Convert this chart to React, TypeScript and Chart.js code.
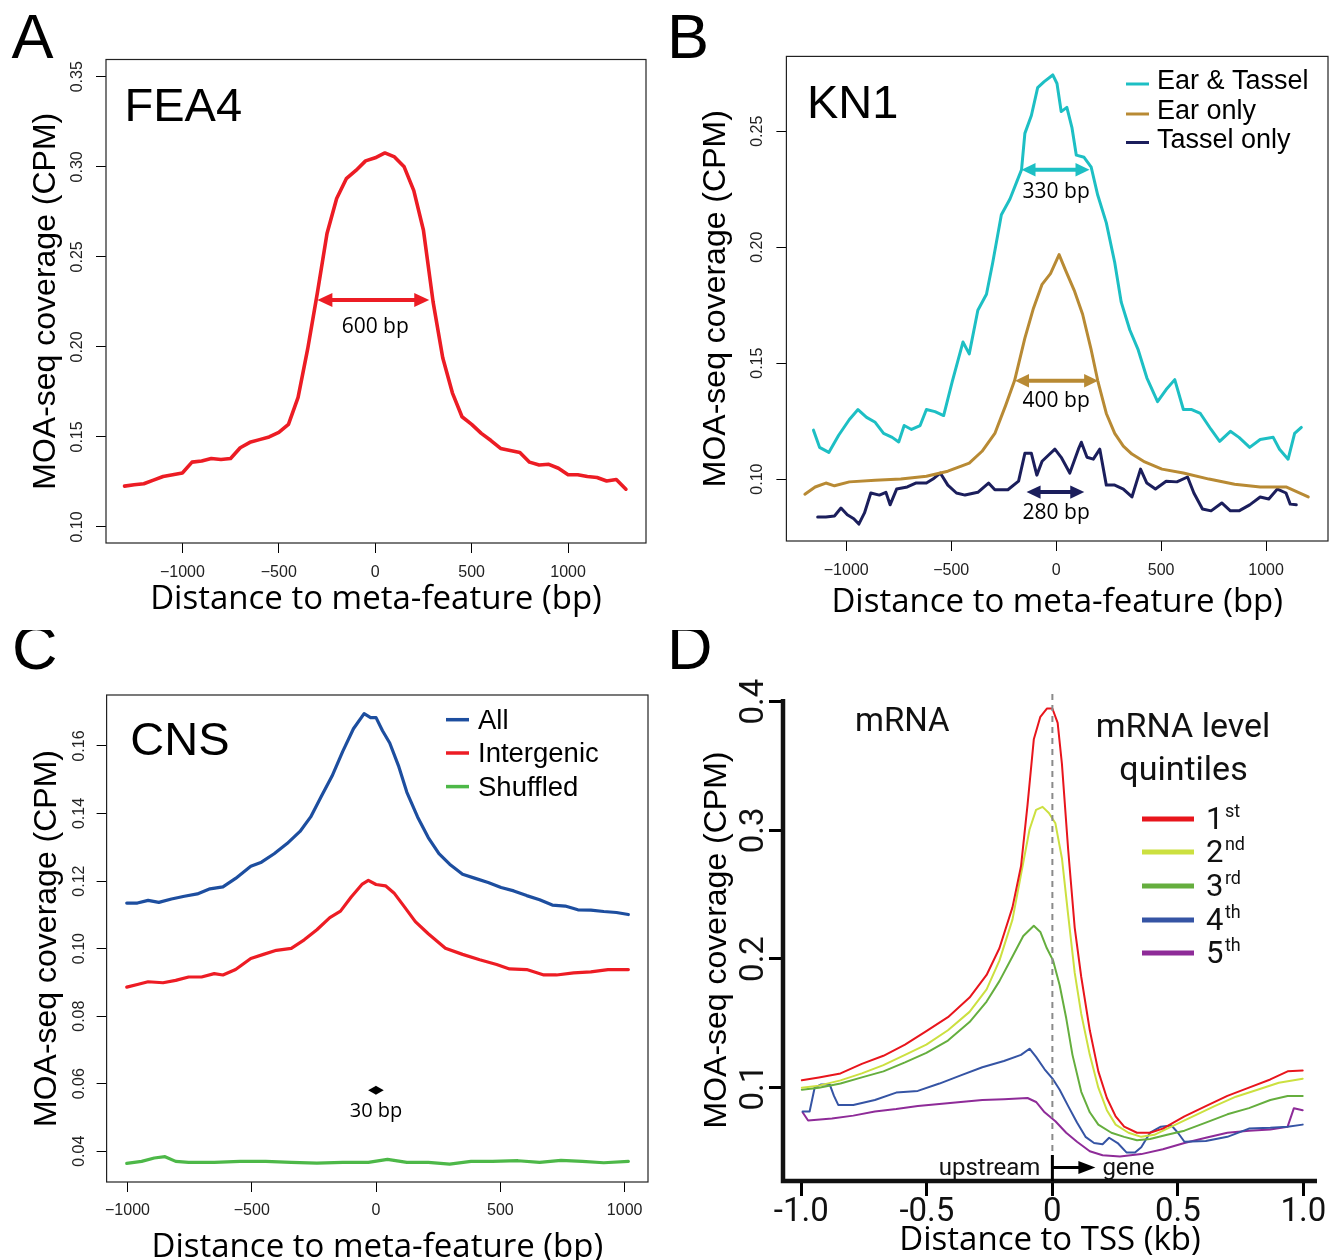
import React, { useEffect, useRef } from 'react';
import { Chart, registerables } from 'chart.js';

Chart.register(...registerables);

const SANS = '"Liberation Sans", Arial, Helvetica, sans-serif';
const OPEN = '"Open Sans", sans-serif';
const ROBOTO = 'Roboto, sans-serif';

// ---------------- Panel A : FEA4 ----------------
const fea4X = [-1300, -1250, -1200, -1150, -1100, -1050, -1000, -950, -900, -850, -800, -750, -700, -650, -600, -550, -500, -450, -400, -350, -300, -250, -200, -150, -100, -50, 0, 50, 100, 150, 200, 250, 300, 350, 400, 450, 500, 550, 600, 650, 700, 750, 800, 850, 900, 950, 1000, 1050, 1100, 1150, 1200, 1250, 1300];
const fea4Y = [0.1227, 0.1234, 0.124, 0.126, 0.128, 0.129, 0.13, 0.136, 0.1366, 0.138, 0.1375, 0.138, 0.144, 0.147, 0.1485, 0.15, 0.1525, 0.157, 0.172, 0.199, 0.23, 0.263, 0.2824, 0.2934, 0.298, 0.3033, 0.305, 0.3077, 0.3055, 0.3, 0.2868, 0.2648, 0.225, 0.194, 0.1745, 0.1612, 0.157, 0.152, 0.148, 0.1436, 0.1425, 0.1414, 0.136, 0.1344, 0.1348, 0.1326, 0.129, 0.129, 0.128, 0.1275, 0.1255, 0.1264, 0.121];
const aXTicks = [-1000, -500, 0, 500, 1000];
const aXLabels = ['\u22121000', '\u2212500', '0', '500', '1000'];
const aYTicks = [0.1, 0.15, 0.2, 0.25, 0.3, 0.35];
const aYLabels = ['0.10', '0.15', '0.20', '0.25', '0.30', '0.35'];

// ---------------- Panel B : KN1 ----------------
const earTasselX = [-1156, -1127, -1083, -1036, -985, -944, -903, -862, -822, -781, -750, -724, -689, -648, -618, -577, -536, -495, -444, -414, -373, -332, -302, -261, -220, -186, -165, -149, -118, -88, -57, -16, 4, 24, 51, 75, 96, 133, 167, 198, 239, 279, 310, 351, 391, 432, 483, 524, 565, 606, 646, 687, 738, 779, 830, 871, 922, 972, 1034, 1064, 1105, 1136, 1168];
const earTasselY = [0.1211, 0.1137, 0.1115, 0.1189, 0.1257, 0.13, 0.1266, 0.1245, 0.1197, 0.118, 0.116, 0.1231, 0.1214, 0.1231, 0.13, 0.1291, 0.1274, 0.142, 0.1591, 0.154, 0.1728, 0.1797, 0.1934, 0.214, 0.2208, 0.2286, 0.2334, 0.2491, 0.2568, 0.2688, 0.2714, 0.2743, 0.2706, 0.2585, 0.2603, 0.2517, 0.2397, 0.2388, 0.2345, 0.2225, 0.2105, 0.1934, 0.1763, 0.1643, 0.1557, 0.1437, 0.1334, 0.1386, 0.1429, 0.13, 0.13, 0.1283, 0.1214, 0.1163, 0.1206, 0.118, 0.1137, 0.1171, 0.118, 0.1129, 0.1086, 0.1197, 0.1223];
const earOnlyX = [-1197, -1148, -1097, -1056, -985, -862, -740, -618, -516, -414, -353, -292, -241, -198, -149, -108, -67, -27, 14, 45, 86, 126, 167, 198, 239, 279, 320, 361, 422, 504, 606, 728, 850, 972, 1095, 1201];
const earOnlyY = [0.0935, 0.0966, 0.0983, 0.0971, 0.0988, 0.0995, 0.1, 0.1012, 0.1034, 0.1069, 0.112, 0.1197, 0.1317, 0.1425, 0.1608, 0.1737, 0.184, 0.1886, 0.1968, 0.19, 0.1814, 0.1711, 0.1557, 0.1425, 0.1283, 0.1197, 0.1142, 0.1108, 0.1074, 0.1043, 0.1026, 0.1, 0.0978, 0.0966, 0.0966, 0.0923];
const tasselOnlyX = [-1136, -1097, -1056, -1025, -995, -964, -940, -913, -883, -842, -811, -791, -760, -709, -669, -618, -587, -552, -516, -475, -434, -373, -322, -292, -230, -179, -149, -118, -92, -67, -37, -6, 24, 65, 106, 120, 147, 177, 208, 239, 279, 320, 361, 402, 432, 473, 524, 575, 626, 656, 697, 738, 789, 830, 871, 922, 972, 1013, 1054, 1095, 1115, 1144];
const tasselOnlyY = [0.0837, 0.0837, 0.0841, 0.0875, 0.0846, 0.0829, 0.0806, 0.0854, 0.094, 0.0931, 0.0943, 0.0889, 0.0957, 0.0966, 0.0983, 0.0983, 0.1, 0.1026, 0.0974, 0.094, 0.0931, 0.0943, 0.0983, 0.0954, 0.0954, 0.0991, 0.1111, 0.1111, 0.1017, 0.1077, 0.1103, 0.1129, 0.1094, 0.1026, 0.1129, 0.1159, 0.1094, 0.1086, 0.1129, 0.0974, 0.0974, 0.0957, 0.0923, 0.1043, 0.0983, 0.0957, 0.0991, 0.0988, 0.1009, 0.094, 0.0871, 0.0863, 0.0897, 0.0863, 0.0863, 0.0889, 0.0923, 0.0914, 0.0957, 0.094, 0.0892, 0.0889];
const bXTicks = [-1000, -500, 0, 500, 1000];
const bXLabels = ['\u22121000', '\u2212500', '0', '500', '1000'];
const bYTicks = [0.1, 0.15, 0.2, 0.25];
const bYLabels = ['0.10', '0.15', '0.20', '0.25'];

// ---------------- Panel C : CNS ----------------
const cnsAllX = [-1003, -960, -917, -874, -823, -771, -719, -668, -616, -565, -504, -461, -410, -358, -306, -263, -220, -177, -134, -91, -48, -22, 0, 26, 55, 90, 124, 167, 210, 253, 296, 348, 399, 451, 503, 554, 606, 658, 709, 761, 812, 864, 916, 967, 1015];
const cnsAllY = [0.1135, 0.1135, 0.1143, 0.1137, 0.1147, 0.1155, 0.1162, 0.1177, 0.1183, 0.1208, 0.1244, 0.1256, 0.1281, 0.1311, 0.1347, 0.139, 0.1451, 0.1511, 0.1584, 0.1651, 0.1696, 0.1684, 0.1684, 0.1645, 0.1609, 0.1542, 0.1463, 0.139, 0.1329, 0.1281, 0.125, 0.122, 0.1208, 0.1196, 0.1181, 0.1171, 0.1157, 0.1145, 0.1129, 0.1126, 0.1115, 0.1114, 0.111, 0.1107, 0.1101];
const cnsInterX = [-1003, -960, -917, -857, -806, -754, -702, -651, -616, -565, -504, -453, -401, -341, -289, -238, -186, -143, -100, -57, -31, 0, 38, 72, 115, 158, 210, 279, 348, 417, 485, 537, 606, 675, 726, 795, 864, 933, 1015];
const cnsInterY = [0.0886, 0.0894, 0.0902, 0.0899, 0.0906, 0.0916, 0.0916, 0.0926, 0.0922, 0.0938, 0.0971, 0.0983, 0.0995, 0.1001, 0.1026, 0.1056, 0.1092, 0.1111, 0.1153, 0.119, 0.1202, 0.119, 0.1186, 0.1165, 0.1123, 0.108, 0.1044, 0.1001, 0.0983, 0.0967, 0.0953, 0.094, 0.0938, 0.0922, 0.0922, 0.0928, 0.0931, 0.0938, 0.0938];
const cnsShufX = [-1003, -943, -892, -849, -806, -754, -651, -547, -444, -341, -238, -134, -31, 46, 124, 210, 296, 382, 468, 571, 658, 744, 830, 916, 1015];
const cnsShufY = [0.0364, 0.037, 0.038, 0.0384, 0.037, 0.0367, 0.0367, 0.037, 0.037, 0.0367, 0.0365, 0.0367, 0.0367, 0.0376, 0.0367, 0.0367, 0.0362, 0.037, 0.037, 0.0372, 0.0367, 0.0373, 0.037, 0.0366, 0.037];
const cXTicks = [-1000, -500, 0, 500, 1000];
const cXLabels = ['\u22121000', '\u2212500', '0', '500', '1000'];
const cYTicks = [0.04, 0.06, 0.08, 0.1, 0.12, 0.14, 0.16];
const cYLabels = ['0.04', '0.06', '0.08', '0.10', '0.12', '0.14', '0.16'];

// ---------------- Panel D : mRNA quintiles ----------------
const q1X = [-0.998, -0.93, -0.844, -0.759, -0.673, -0.587, -0.502, -0.416, -0.33, -0.262, -0.211, -0.159, -0.125, -0.099, -0.074, -0.048, -0.022, 0, 0.021, 0.038, 0.063, 0.089, 0.115, 0.149, 0.183, 0.217, 0.252, 0.286, 0.337, 0.389, 0.44, 0.526, 0.611, 0.697, 0.783, 0.868, 0.937, 0.997];
const q1Y = [0.1057, 0.108, 0.1111, 0.1185, 0.1248, 0.1334, 0.1439, 0.1548, 0.17, 0.1876, 0.2083, 0.2401, 0.272, 0.3197, 0.3707, 0.3882, 0.3946, 0.3946, 0.3834, 0.3516, 0.2847, 0.2242, 0.186, 0.1446, 0.1127, 0.092, 0.0777, 0.0697, 0.065, 0.065, 0.0682, 0.0777, 0.0857, 0.0936, 0.1, 0.1064, 0.1127, 0.1134];
const q2X = [-0.998, -0.93, -0.844, -0.759, -0.673, -0.587, -0.502, -0.416, -0.33, -0.262, -0.211, -0.159, -0.125, -0.091, -0.065, -0.039, -0.014, 0.012, 0.038, 0.063, 0.089, 0.115, 0.149, 0.183, 0.217, 0.252, 0.303, 0.354, 0.406, 0.474, 0.56, 0.646, 0.731, 0.817, 0.902, 0.997];
const q2Y = [0.1, 0.1016, 0.1057, 0.1111, 0.1175, 0.1255, 0.1334, 0.1446, 0.1589, 0.1764, 0.1987, 0.2306, 0.2656, 0.3006, 0.3159, 0.3182, 0.3134, 0.3054, 0.2783, 0.2338, 0.1892, 0.1573, 0.1255, 0.1, 0.0825, 0.0713, 0.065, 0.0618, 0.0634, 0.0697, 0.0777, 0.0857, 0.093, 0.0984, 0.1038, 0.107];
const q3X = [-0.998, -0.93, -0.844, -0.759, -0.673, -0.587, -0.502, -0.416, -0.33, -0.262, -0.211, -0.159, -0.116, -0.074, -0.048, -0.022, 0.003, 0.029, 0.055, 0.08, 0.115, 0.149, 0.183, 0.235, 0.286, 0.337, 0.389, 0.457, 0.526, 0.611, 0.697, 0.783, 0.868, 0.937, 0.997];
const q3Y = [0.0984, 0.1, 0.1032, 0.108, 0.1127, 0.1197, 0.1271, 0.1366, 0.151, 0.1669, 0.1828, 0.2019, 0.2178, 0.2258, 0.221, 0.2083, 0.1987, 0.1796, 0.1541, 0.1255, 0.0968, 0.0809, 0.0713, 0.065, 0.0618, 0.0592, 0.0602, 0.0634, 0.0666, 0.0729, 0.0793, 0.0841, 0.0904, 0.0936, 0.0936];
const q4X = [-0.995, -0.967, -0.947, -0.921, -0.887, -0.87, -0.853, -0.793, -0.707, -0.622, -0.536, -0.45, -0.365, -0.279, -0.193, -0.125, -0.091, -0.065, -0.031, 0.003, 0.029, 0.063, 0.098, 0.132, 0.166, 0.2, 0.226, 0.26, 0.295, 0.329, 0.354, 0.389, 0.432, 0.474, 0.5, 0.526, 0.611, 0.697, 0.783, 0.868, 0.937, 0.997];
const q4Y = [0.0815, 0.0815, 0.1, 0.1025, 0.1025, 0.0936, 0.0866, 0.0866, 0.0904, 0.0962, 0.0975, 0.1032, 0.1096, 0.1159, 0.1207, 0.1255, 0.1303, 0.1239, 0.1143, 0.1064, 0.0984, 0.0857, 0.0729, 0.0618, 0.057, 0.056, 0.0611, 0.057, 0.0497, 0.0497, 0.0538, 0.065, 0.0697, 0.0707, 0.065, 0.058, 0.0586, 0.0618, 0.0682, 0.0688, 0.0697, 0.0713];
const q5X = [-0.995, -0.973, -0.878, -0.793, -0.707, -0.622, -0.536, -0.45, -0.365, -0.279, -0.193, -0.099, -0.065, -0.031, 0.012, 0.055, 0.098, 0.149, 0.2, 0.269, 0.354, 0.44, 0.526, 0.611, 0.697, 0.783, 0.868, 0.937, 0.962, 0.997];
const q5Y = [0.0809, 0.0745, 0.0761, 0.0783, 0.0815, 0.0834, 0.0857, 0.0873, 0.0889, 0.0904, 0.0911, 0.092, 0.0889, 0.0809, 0.0739, 0.065, 0.058, 0.0506, 0.0475, 0.0465, 0.0484, 0.0522, 0.057, 0.0611, 0.065, 0.0666, 0.0675, 0.0697, 0.0841, 0.0825];
const dXTicks = [-1, -0.5, 0, 0.5, 1];
const dXLabels = ['-1.0', '-0.5', '0', '0.5', '1.0'];
const dYTicks = [0.1, 0.2, 0.3, 0.4];
const dYLabels = ['0.1', '0.2', '0.3', '0.4'];
const quintileNums = ['1', '2', '3', '4', '5'];
const quintileSups = ['st', 'nd', 'rd', 'th', 'th'];

const pts = (xs: number[], ys: number[]) => xs.map((x, i) => ({ x, y: ys[i] }));

const line = (label: string, xs: number[], ys: number[], color: string, width: number) => ({
  label,
  data: pts(xs, ys),
  borderColor: color,
  backgroundColor: color,
  borderWidth: width,
  pointRadius: 0,
  fill: false,
  tension: 0,
  borderJoinStyle: 'round',
  borderCapStyle: 'round',
});

function dblArrow(ctx: any, x1: number, x2: number, y: number, color: string, lw: number, hl: number, hw: number) {
  ctx.save();
  ctx.strokeStyle = color;
  ctx.fillStyle = color;
  ctx.lineWidth = lw;
  ctx.beginPath();
  ctx.moveTo(x1 + hl * 0.6, y);
  ctx.lineTo(x2 - hl * 0.6, y);
  ctx.stroke();
  ctx.beginPath();
  ctx.moveTo(x1, y);
  ctx.lineTo(x1 + hl, y - hw);
  ctx.lineTo(x1 + hl, y + hw);
  ctx.closePath();
  ctx.fill();
  ctx.beginPath();
  ctx.moveTo(x2, y);
  ctx.lineTo(x2 - hl, y - hw);
  ctx.lineTo(x2 - hl, y + hw);
  ctx.closePath();
  ctx.fill();
  ctx.restore();
}

function text(ctx: any, s: string, x: number, y: number, font: string, align = 'left', color = '#000') {
  ctx.save();
  ctx.font = font;
  ctx.fillStyle = color;
  ctx.textAlign = align;
  ctx.textBaseline = 'alphabetic';
  ctx.fillText(s, x, y);
  ctx.restore();
}

type Axis = {
  min: number; max: number; ticks: number[]; labels: string[];
  font: any; color: string; padding: number; tickLength: number; tickWidth: number;
  title: string; titleFont: any; titlePad: number; labelOffset?: number;
};

type Panel = {
  rect: { left: number; top: number; width: number; height: number };
  area: { l: number; t: number; r: number; b: number };
  x: Axis; y: Axis; datasets: any[]; box: boolean;
  deco: (ctx: any, sx: (v: number) => number, sy: (v: number) => number, chart: any) => void;
};

function buildConfig(p: Panel): any {
  const { rect, area } = p;
  const deco = {
    id: 'deco',
    afterDatasetsDraw(chart: any) {
      const ctx = chart.ctx;
      const xs = chart.scales.x;
      const ys = chart.scales.y;
      const ca = chart.chartArea;
      const sx = (v: number) => xs.getPixelForValue(v) + rect.left;
      const sy = (v: number) => ys.getPixelForValue(v) + rect.top;
      ctx.save();
      ctx.translate(-rect.left, -rect.top);
      if (p.box) {
        ctx.save();
        ctx.strokeStyle = '#222';
        ctx.lineWidth = 1.2;
        ctx.strokeRect(ca.left + rect.left, ca.top + rect.top, ca.right - ca.left, ca.bottom - ca.top);
        ctx.restore();
      }
      // rotated y tick labels, from the scale's own ticks
      ctx.save();
      ctx.font = `${p.y.font.size}px ${p.y.font.family}`;
      ctx.fillStyle = p.y.color;
      ctx.textAlign = 'center';
      ctx.textBaseline = 'middle';
      ys.ticks.forEach((t: any, i: number) => {
        ctx.save();
        ctx.translate(ca.left + rect.left - (p.y.labelOffset || 28), sy(t.value));
        ctx.rotate(-Math.PI / 2);
        ctx.fillText(p.y.labels[i], 0, 0);
        ctx.restore();
      });
      ctx.restore();
      p.deco(ctx, sx, sy, chart);
      ctx.restore();
    },
  };
  return {
    type: 'line',
    data: { datasets: p.datasets },
    options: {
      animation: false,
      responsive: false,
      maintainAspectRatio: false,
      devicePixelRatio: 1,
      events: [],
      layout: { padding: { left: 0, top: area.t - rect.top, right: rect.left + rect.width - area.r, bottom: 0 } },
      plugins: { legend: { display: false }, tooltip: { enabled: false }, title: { display: false } },
      scales: {
        x: {
          type: 'linear',
          position: 'bottom',
          min: p.x.min,
          max: p.x.max,
          afterFit: (s: any) => { s.height = rect.top + rect.height - area.b; },
          afterBuildTicks: (s: any) => { s.ticks = p.x.ticks.map((v) => ({ value: v })); },
          ticks: {
            autoSkip: false, maxRotation: 0, minRotation: 0,
            padding: p.x.padding, font: p.x.font, color: p.x.color,
            callback: (_v: any, i: number) => p.x.labels[i] ?? '',
          },
          grid: {
            display: true, drawOnChartArea: false, drawTicks: true,
            tickLength: p.x.tickLength, tickWidth: p.x.tickWidth, lineWidth: p.x.tickWidth,
            tickColor: '#000', color: '#000',
          },
          border: { display: false },
          title: { display: true, text: p.x.title, font: p.x.titleFont, color: '#000', padding: { top: 0, bottom: p.x.titlePad } },
        },
        y: {
          type: 'linear',
          position: 'left',
          min: p.y.min,
          max: p.y.max,
          afterFit: (s: any) => { s.width = area.l - rect.left; },
          afterBuildTicks: (s: any) => { s.ticks = p.y.ticks.map((v) => ({ value: v })); },
          ticks: { display: false },
          grid: {
            display: true, drawOnChartArea: false, drawTicks: true,
            tickLength: p.y.tickLength, tickWidth: p.y.tickWidth, lineWidth: p.y.tickWidth,
            tickColor: '#000', color: '#000',
          },
          border: { display: false },
          title: { display: true, text: p.y.title, font: p.y.titleFont, color: '#000', padding: { top: p.y.titlePad, bottom: 0 } },
        },
      },
    },
    plugins: [deco],
  };
}

const tickFontR = { family: SANS, size: 16 };
const yTitleFont = { family: SANS, size: 32 };
const xTitleFont = { family: OPEN, size: 33 };
const LETTER = `63px ${SANS}`;
const NAME = `47px ${SANS}`;

const panelA: Panel = {
  rect: { left: 0, top: 0, width: 670, height: 630 },
  area: { l: 106, t: 59.5, r: 646, b: 543 },
  box: true,
  x: { min: -1396, max: 1404, ticks: aXTicks, labels: aXLabels, font: tickFontR, color: '#222', padding: 10, tickLength: 10, tickWidth: 1, title: 'Distance to meta-feature (bp)', titleFont: xTitleFont, titlePad: 10.5 },
  y: { min: 0.0911, max: 0.3596, ticks: aYTicks, labels: aYLabels, font: tickFontR, color: '#222', padding: 0, tickLength: 10, tickWidth: 1, title: 'MOA-seq coverage (CPM)', titleFont: yTitleFont, titlePad: 27.3, labelOffset: 28.5 },
  datasets: [line('FEA4', fea4X, fea4Y, '#EC1C24', 3.6)],
  deco: (ctx, sx, sy) => {
    text(ctx, 'A', 11.5, 58.3, LETTER);
    text(ctx, 'FEA4', 124.5, 120.7, NAME);
    const ay = sy(0.226);
    dblArrow(ctx, sx(-300), sx(280), ay, '#EC1C24', 4, 15, 7);
    text(ctx, '600 bp', sx(0), ay + 33, `21px ${OPEN}`, 'center');
  },
};

const panelB: Panel = {
  rect: { left: 660, top: 0, width: 680, height: 630 },
  area: { l: 786.4, t: 56.4, r: 1328, b: 541 },
  box: true,
  x: { min: -1285, max: 1295, ticks: bXTicks, labels: bXLabels, font: tickFontR, color: '#222', padding: 10, tickLength: 10, tickWidth: 1, title: 'Distance to meta-feature (bp)', titleFont: xTitleFont, titlePad: 7.2 },
  y: { min: 0.0733, max: 0.2823, ticks: bYTicks, labels: bYLabels, font: tickFontR, color: '#222', padding: 0, tickLength: 10, tickWidth: 1, title: 'MOA-seq coverage (CPM)', titleFont: yTitleFont, titlePad: 36.5, labelOffset: 29 },
  datasets: [
    line('Ear & Tassel', earTasselX, earTasselY, '#1DBFC4', 3),
    line('Ear only', earOnlyX, earOnlyY, '#B88A34', 3),
    line('Tassel only', tasselOnlyX, tasselOnlyY, '#1B1E5C', 3),
  ],
  deco: (ctx, sx, sy, chart) => {
    text(ctx, 'B', 667, 57.6, LETTER);
    text(ctx, 'KN1', 807, 118.4, NAME);
    const y1 = sy(0.2334);
    dblArrow(ctx, sx(-165), sx(159), y1, '#1DBFC4', 4, 14, 6.7);
    text(ctx, '330 bp', sx(0), y1 + 28, `21px ${OPEN}`, 'center');
    const y2 = sy(0.1424);
    dblArrow(ctx, sx(-196), sx(200), y2, '#B88A34', 4, 14, 6.7);
    text(ctx, '400 bp', sx(0), y2 + 26, `21px ${OPEN}`, 'center');
    const y3 = sy(0.0944);
    dblArrow(ctx, sx(-141), sx(134), y3, '#1B1E5C', 4, 14, 6.7);
    text(ctx, '280 bp', sx(0), y3 + 27, `21px ${OPEN}`, 'center');
    const bases = [89, 119, 147.5];
    chart.data.datasets.forEach((d: any, i: number) => {
      ctx.save();
      ctx.strokeStyle = d.borderColor;
      ctx.lineWidth = 3;
      ctx.beginPath();
      ctx.moveTo(1126, bases[i] - 5);
      ctx.lineTo(1149, bases[i] - 5);
      ctx.stroke();
      ctx.restore();
      text(ctx, d.label, 1157, bases[i], `27px ${SANS}`);
    });
  },
};

const panelC: Panel = {
  rect: { left: 0, top: 630, width: 670, height: 630 },
  area: { l: 106.6, t: 695, r: 648, b: 1182 },
  box: true,
  x: { min: -1084, max: 1094, ticks: cXTicks, labels: cXLabels, font: tickFontR, color: '#222', padding: 9.2, tickLength: 10, tickWidth: 1, title: 'Distance to meta-feature (bp)', titleFont: xTitleFont, titlePad: -7.4 },
  y: { min: 0.0309, max: 0.1751, ticks: cYTicks, labels: cYLabels, font: tickFontR, color: '#222', padding: 0, tickLength: 10, tickWidth: 1, title: 'MOA-seq coverage (CPM)', titleFont: yTitleFont, titlePad: 28.3, labelOffset: 27 },
  datasets: [
    line('All', cnsAllX, cnsAllY, '#1D4E9F', 3.2),
    line('Intergenic', cnsInterX, cnsInterY, '#ED1C24', 3.2),
    line('Shuffled', cnsShufX, cnsShufY, '#4DB848', 3.2),
  ],
  deco: (ctx, sx, sy, chart) => {
    text(ctx, 'C', 12, 669, LETTER);
    text(ctx, 'CNS', 130.3, 754.6, NAME);
    const ay = sy(0.0581);
    dblArrow(ctx, sx(-32), sx(31), ay, '#000', 2, 8, 4.5);
    text(ctx, '30 bp', sx(0), ay + 27, `20px ${OPEN}`, 'center');
    const bases = [728.7, 762, 795.6];
    chart.data.datasets.forEach((d: any, i: number) => {
      ctx.save();
      ctx.strokeStyle = d.borderColor;
      ctx.lineWidth = 3.5;
      ctx.beginPath();
      ctx.moveTo(446, bases[i] - 9);
      ctx.lineTo(469, bases[i] - 9);
      ctx.stroke();
      ctx.restore();
      text(ctx, d.label, 478, bases[i], `27.5px ${SANS}`);
    });
  },
};

const panelD: Panel = {
  rect: { left: 660, top: 630, width: 680, height: 630 },
  area: { l: 783, t: 699, r: 1317, b: 1181 },
  box: false,
  x: { min: -1.073, max: 1.054, ticks: dXTicks, labels: dXLabels, font: { family: ROBOTO, size: 33 }, color: '#111', padding: -3, tickLength: 15, tickWidth: 3, title: 'Distance to TSS (kb)', titleFont: { family: OPEN, size: 33 }, titlePad: -0.5 },
  y: { min: 0.0275, max: 0.402, ticks: dYTicks, labels: dYLabels, font: { family: ROBOTO, size: 33 }, color: '#111', padding: 0, tickLength: 14, tickWidth: 3, title: 'MOA-seq coverage (CPM)', titleFont: yTitleFont, titlePad: 37.5, labelOffset: 28 },
  datasets: [
    line('1st', q1X, q1Y, '#E8151C', 2),
    line('2nd', q2X, q2Y, '#CCE040', 2),
    line('3rd', q3X, q3Y, '#65AE3E', 2),
    line('4th', q4X, q4Y, '#3554A4', 2),
    line('5th', q5X, q5Y, '#8E2B98', 2),
  ],
  deco: (ctx, sx, sy, chart) => {
    const ca = chart.chartArea;
    const L = ca.left + 660, R = ca.right + 660, T = ca.top + 630, B = ca.bottom + 630;
    // L-shaped axes
    ctx.save();
    ctx.strokeStyle = '#111';
    ctx.lineWidth = 4.5;
    ctx.lineJoin = 'miter';
    ctx.beginPath();
    ctx.moveTo(L, T);
    ctx.lineTo(L, B);
    ctx.lineTo(R, B);
    ctx.stroke();
    ctx.restore();
    const x0 = sx(0);
    // dashed TSS line
    ctx.save();
    ctx.strokeStyle = '#8a8a8a';
    ctx.lineWidth = 2;
    ctx.setLineDash([6, 5]);
    ctx.beginPath();
    ctx.moveTo(x0, T - 5);
    ctx.lineTo(x0, B - 26);
    ctx.stroke();
    ctx.restore();
    // upstream -> gene arrow
    ctx.save();
    ctx.strokeStyle = '#000';
    ctx.fillStyle = '#000';
    ctx.lineWidth = 3;
    ctx.beginPath();
    ctx.moveTo(x0, B - 26);
    ctx.lineTo(x0, B);
    ctx.moveTo(x0, B - 13.5);
    ctx.lineTo(x0 + 28, B - 13.5);
    ctx.stroke();
    ctx.beginPath();
    ctx.moveTo(x0 + 26, B - 20);
    ctx.lineTo(x0 + 43, B - 13.5);
    ctx.lineTo(x0 + 26, B - 7);
    ctx.closePath();
    ctx.fill();
    ctx.restore();
    text(ctx, 'upstream', x0 - 12, 1175, `24px ${ROBOTO}`, 'right', '#111');
    text(ctx, 'gene', x0 + 50, 1175, `24px ${ROBOTO}`, 'left', '#111');
    text(ctx, 'D', 667, 669, LETTER);
    text(ctx, 'mRNA', 855, 731, `33px ${ROBOTO}`, 'left', '#111');
    text(ctx, 'mRNA level', 1183, 737, `34px ${ROBOTO}`, 'center', '#111');
    text(ctx, 'quintiles', 1183.5, 780, `34px ${ROBOTO}`, 'center', '#111');
    const rows = [819, 852, 886, 920, 953];
    chart.data.datasets.forEach((d: any, i: number) => {
      ctx.save();
      ctx.strokeStyle = d.borderColor;
      ctx.lineWidth = 5;
      ctx.beginPath();
      ctx.moveTo(1142, rows[i]);
      ctx.lineTo(1194, rows[i]);
      ctx.stroke();
      ctx.font = `31px ${ROBOTO}`;
      const w = ctx.measureText(quintileNums[i]).width;
      ctx.restore();
      text(ctx, quintileNums[i], 1206, rows[i] + 10, `31px ${ROBOTO}`, 'left', '#111');
      text(ctx, quintileSups[i], 1206 + w + 1.5, rows[i] - 2, `18px ${ROBOTO}`, 'left', '#111');
    });
  },
};

function ChartPanel({ panel }: { panel: Panel }) {
  const ref = useRef<HTMLCanvasElement | null>(null);
  useEffect(() => {
    if (!ref.current) return;
    const chart = new Chart(ref.current, buildConfig(panel));
    return () => chart.destroy();
  }, [panel]);
  const r = panel.rect;
  return (
    <canvas
      ref={ref}
      width={r.width}
      height={r.height}
      style={{ position: 'absolute', left: r.left, top: r.top, width: r.width, height: r.height }}
    />
  );
}

export default function App() {
  return (
    <div style={{ position: 'absolute', left: 0, top: 0, width: 1340, height: 1260, background: '#fff', overflow: 'hidden' }}>
      <ChartPanel panel={panelA} />
      <ChartPanel panel={panelB} />
      <ChartPanel panel={panelC} />
      <ChartPanel panel={panelD} />
    </div>
  );
}
